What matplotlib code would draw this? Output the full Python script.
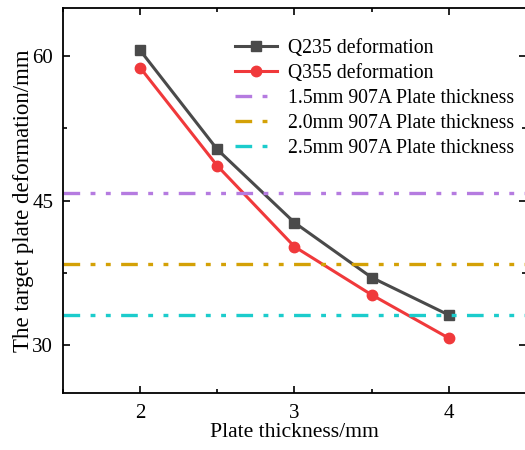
import numpy as np
import matplotlib
matplotlib.use('Agg')
import matplotlib.pyplot as plt
from matplotlib.ticker import MultipleLocator

plt.rcParams['font.family'] = ['Liberation Serif', 'DejaVu Serif']
plt.rcParams['lines.scale_dashes'] = False

# Data
thickness = [2.0, 2.5, 3.0, 3.5, 4.0]
q235 = [60.6, 50.3, 42.7, 37.0, 33.1]
q355 = [58.8, 48.6, 40.2, 35.2, 30.7]
ref_labels = ['1.5mm 907A Plate thickness', '2.0mm 907A Plate thickness', '2.5mm 907A Plate thickness']
ref_values = [45.8, 38.4, 33.1]
ref_colors = ['#b57be0', '#d4a106', '#1ccccc']

fig = plt.figure(figsize=(5.25, 4.5), dpi=100)
ax = fig.add_axes([63 / 525, 57 / 450, 463 / 525, 385 / 450])

ax.plot(thickness, q235, color='#4a4a4a', lw=2.2, marker='s', ms=7, label='Q235 deformation')
ax.plot(thickness, q355, color='#f0393b', lw=2.2, marker='o', ms=7.5, label='Q355 deformation')

# dash, dot, dot pattern
pattern = (12, 7.5, 3.5, 7.5, 3.5, 7.5)
for val, lab, col in zip(ref_values, ref_labels, ref_colors):
    ax.axhline(val, color=col, lw=2.4, dashes=pattern, dash_capstyle='butt', label=lab)

ax.set_xlim(1.5, 4.5)
ax.set_ylim(25, 65)
ax.xaxis.set_major_locator(MultipleLocator(1))
ax.xaxis.set_minor_locator(MultipleLocator(0.5))
ax.yaxis.set_major_locator(MultipleLocator(15))
ax.yaxis.set_minor_locator(MultipleLocator(7.5))
ax.tick_params(which='both', direction='in', top=True, right=True, width=1.2, labelsize=15)
ax.tick_params(which='major', length=5)
ax.tick_params(which='minor', length=3)
ax.tick_params(axis='x', pad=8)
ax.tick_params(axis='y', pad=7)
for s in ax.spines.values():
    s.set_linewidth(1.3)

ax.set_xlabel('Plate thickness/mm', fontsize=15.6, labelpad=0)
ax.set_ylabel('The target plate deformation/mm', fontsize=16.5, labelpad=-1)

ax.legend(loc='upper left', bbox_to_anchor=(0.355, 0.94), frameon=False, fontsize=14.2,
          handlelength=2.1, handletextpad=0.55, labelspacing=0.3, borderaxespad=0)

fig.savefig('out.png', dpi=100)
